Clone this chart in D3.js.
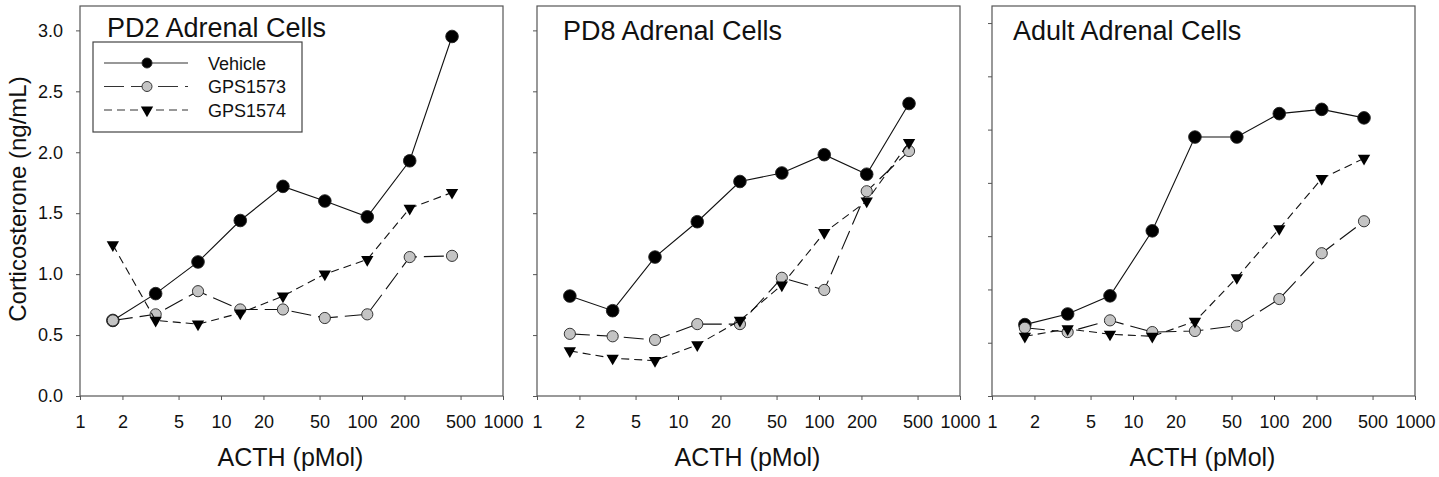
<!DOCTYPE html>
<html>
<head>
<meta charset="utf-8">
<script src="https://cdn.jsdelivr.net/npm/d3@7"></script>
<style>
  body { margin: 0; background: #fff; }
  svg { display: block; font-family: 'Liberation Sans', Arial, sans-serif; }
</style>
</head>
<body>
<svg width="1439" height="477"></svg>
<script>
// ACTH doses (pMol), same for every panel
const doses = [1.71, 3.44, 6.87, 13.7, 27.5, 54.5, 109, 218, 435];

const xTicks = [1, 2, 5, 10, 20, 50, 100, 200, 500, 1000];
const yTicks = [0, 0.5, 1.0, 1.5, 2.0, 2.5, 3.0];
const yTicksAdult = [0, 0.5, 1.0, 1.5, 2.0, 2.5, 3.0, 3.5];

const seriesNames = ['Vehicle', 'GPS1573', 'GPS1574'];
const panelTitles = ['PD2 Adrenal Cells', 'PD8 Adrenal Cells', 'Adult Adrenal Cells'];

// corticosterone (ng/mL)
const pd2Vehicle = [0.62, 0.84, 1.10, 1.44, 1.72, 1.60, 1.47, 1.93, 2.95];
const pd2Gps1573 = [0.62, 0.67, 0.86, 0.71, 0.71, 0.64, 0.67, 1.14, 1.15];
const pd2Gps1574 = [1.24, 0.62, 0.59, 0.68, 0.82, 1.00, 1.12, 1.54, 1.67];

const pd8Vehicle = [0.82, 0.70, 1.14, 1.43, 1.76, 1.83, 1.98, 1.82, 2.40];
const pd8Gps1573 = [0.51, 0.49, 0.46, 0.59, 0.59, 0.97, 0.87, 1.68, 2.01];
const pd8Gps1574 = [0.37, 0.31, 0.29, 0.42, 0.62, 0.91, 1.34, 1.60, 2.08];

const adultVehicle = [0.67, 0.77, 0.94, 1.55, 2.43, 2.43, 2.65, 2.69, 2.61];
const adultGps1573 = [0.64, 0.60, 0.71, 0.60, 0.61, 0.66, 0.91, 1.34, 1.64];
const adultGps1574 = [0.56, 0.63, 0.58, 0.56, 0.70, 1.11, 1.57, 2.04, 2.23];

const svg = d3.select('svg');

// layout
const plotTop = 6, plotBottom = 396, panelW = 423;
const panels = [
  { left: 80, title: panelTitles[0], titleDx: 27, titleY: 37, yMax: 3.2, ticks: yTicks, labels: true,
    series: [pd2Vehicle, pd2Gps1573, pd2Gps1574] },
  { left: 537, title: panelTitles[1], titleDx: 26, titleY: 40, yMax: 3.2, ticks: yTicks, labels: false,
    series: [pd8Vehicle, pd8Gps1573, pd8Gps1574] },
  { left: 992, title: panelTitles[2], titleDx: 21, titleY: 40, yMax: 3.66, ticks: yTicksAdult, labels: false,
    series: [adultVehicle, adultGps1573, adultGps1574] }
];

// series styles
const styles = [
  { dash: null, marker: 'circle', fill: '#000', r: 6.3 },
  { dash: '20,7', marker: 'circle', fill: '#c4c4c4', r: 5.6 },
  { dash: '8,5', marker: 'triangle', fill: '#000', r: 0 }
];
const tri = d3.symbol().type(d3.symbolTriangle).size(66);

const drawMarker = (sel, st, x, y) => {
  if (st.marker === 'circle') {
    sel.append('circle')
      .attr('cx', x).attr('cy', y).attr('r', st.r)
      .attr('fill', st.fill)
      .attr('stroke', '#222').attr('stroke-width', 0.9);
  } else {
    sel.append('path')
      .attr('d', tri())
      .attr('transform', `translate(${x},${y}) rotate(180)`)
      .attr('fill', '#000');
  }
};

panels.forEach(p => {
  const g = svg.append('g').attr('transform', `translate(${p.left},0)`);

  const xscale = d3.scaleLog().domain([1, 1000]).range([0, panelW]);
  const yscale = d3.scaleLinear().domain([0, p.yMax]).range([plotBottom, plotTop]);

  // frame
  g.append('rect')
    .attr('x', 0).attr('y', plotTop)
    .attr('width', panelW).attr('height', plotBottom - plotTop)
    .attr('fill', 'none').attr('stroke', '#555').attr('stroke-width', 1.2);

  const xAxis = g.append('g')
    .attr('transform', `translate(0,${plotBottom})`)
    .call(d3.axisBottom(xscale).tickValues(xTicks).tickFormat(d3.format('d')).tickSize(4).tickPadding(15));
  xAxis.select('.domain').remove();
  xAxis.selectAll('line').attr('stroke', '#555');
  xAxis.selectAll('text').attr('font-size', 18).attr('fill', '#111');

  const yAxis = g.append('g')
    .call(d3.axisLeft(yscale).tickValues(p.ticks)
      .tickFormat(p.labels ? d3.format('.1f') : () => '').tickSize(4).tickPadding(13));
  yAxis.select('.domain').remove();
  yAxis.selectAll('line').attr('stroke', '#555');
  yAxis.selectAll('text').attr('font-size', 18).attr('fill', '#111');

  // title
  g.append('text')
    .text(p.title)
    .attr('x', p.titleDx).attr('y', p.titleY)
    .attr('font-size', 27).attr('fill', '#111');

  // x axis label
  g.append('text')
    .text('ACTH (pMol)')
    .attr('x', panelW / 2 - 1).attr('y', 466)
    .attr('text-anchor', 'middle')
    .attr('font-size', 25).attr('fill', '#111');

  const line = d3.line()
    .x((d, i) => xscale(doses[i]))
    .y(d => yscale(d));

  p.series.forEach((vals, k) => {
    const st = styles[k];
    g.append('path')
      .datum(vals)
      .attr('d', line)
      .attr('fill', 'none')
      .attr('stroke', '#111')
      .attr('stroke-width', 1.1)
      .attr('stroke-dasharray', st.dash);
    const mg = g.append('g');
    vals.forEach((v, i) => drawMarker(mg, st, xscale(doses[i]), yscale(v)));
  });
});

// legend in first panel
const lg = svg.append('g');
lg.append('rect')
  .attr('x', 93).attr('y', 42).attr('width', 209).attr('height', 90)
  .attr('fill', '#fff').attr('stroke', '#444').attr('stroke-width', 1.2);

seriesNames.forEach((name, k) => {
  const st = styles[k];
  const y = 63 + k * 23.5;
  lg.append('line')
    .attr('x1', 104).attr('x2', 188).attr('y1', y).attr('y2', y)
    .attr('stroke', '#333').attr('stroke-width', 1.1)
    .attr('stroke-dasharray', st.dash);
  drawMarker(lg, { ...st, r: 5 }, 147, y);
  lg.append('text')
    .text(name)
    .attr('x', 208).attr('y', y + 6.5)
    .attr('font-size', 18).attr('fill', '#111');
});

// y axis label
svg.append('text')
  .text('Corticosterone (ng/mL)')
  .attr('transform', 'translate(26,199) rotate(-90)')
  .attr('text-anchor', 'middle')
  .attr('font-size', 24).attr('fill', '#111');
</script>
</body>
</html>
